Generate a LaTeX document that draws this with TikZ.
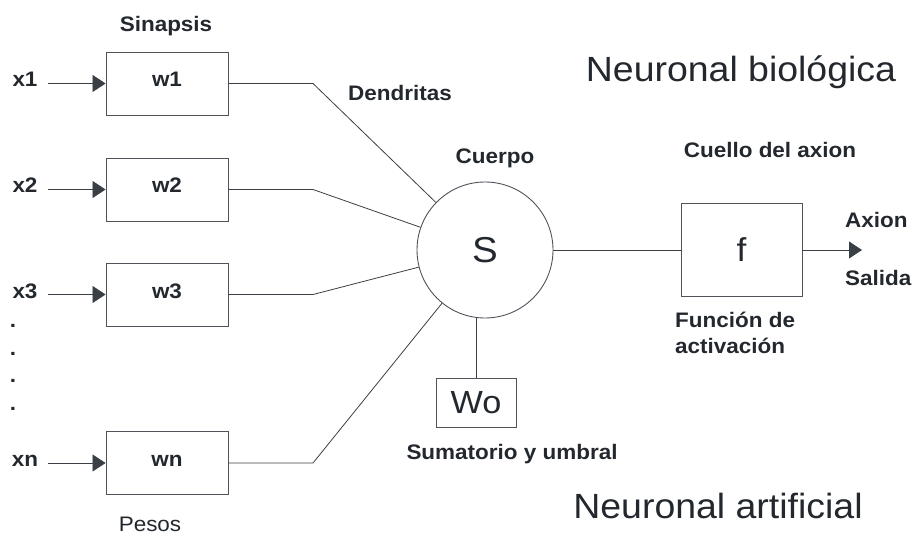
\documentclass[tikz,border=0pt]{standalone}
\usepackage{fontspec}
\setmainfont{Liberation Sans}[FakeStretch=1.07]
\usetikzlibrary{arrows.meta}
\definecolor{ink}{HTML}{23282E}
\definecolor{wire}{HTML}{3A3F45}
\definecolor{frame}{HTML}{4E535A}
\begin{document}
\begin{tikzpicture}[x=1pt,y=-1pt,
  every node/.style={inner sep=0pt,text=ink},
  lbl/.style={font=\bfseries\fontsize{21}{25}\selectfont,anchor=base},
  title/.style={font=\fontsize{35}{42}\selectfont,anchor=base},
  wbox/.style={draw=frame,line width=0.9pt,minimum width=122pt,minimum height=63pt,
    font=\bfseries\fontsize{21}{25}\selectfont,text height=15pt,text depth=8pt},
  wire/.style={draw=wire,line width=0.8pt},
  feed/.style={wire,-{Triangle[length=13pt,width=17pt]}}]
\useasboundingbox (0,0) rectangle (917,537);

% weights (synapses)
\node[wbox] (w1) at (167,83.5) {w1};
\node[wbox] (w2) at (167,189.5) {w2};
\node[wbox] (w3) at (167,294.5) {w3};
\node[wbox] (wn) at (167,463) {wn};

% inputs
\node[lbl] (x1) at (25,87) {x1};
\node[lbl] (x2) at (25,193) {x2};
\node[lbl] (x3) at (25,298) {x3};
\node[lbl] (xn) at (25,466) {xn};
\node[lbl] (d1) at (13,327) {.};
\node[lbl] (d2) at (13,355) {.};
\node[lbl] (d3) at (13,382) {.};
\node[lbl] (d4) at (13,410) {.};
\coordinate (i1) at (48,83.5);
\coordinate (i2) at (48,189.5);
\coordinate (i3) at (48,294.5);
\coordinate (in) at (48,463);
\draw[feed] (i1) -- (w1);
\draw[feed] (i2) -- (w2);
\draw[feed] (i3) -- (w3);
\draw[feed] (in) -- (wn);

% cell body, threshold and activation
\node[draw=frame,line width=0.9pt,circle,minimum size=136pt,
  font=\fontsize{36}{42}\selectfont] (S) at (485,250) {S};
\node[draw=frame,line width=0.9pt,minimum width=80pt,minimum height=49pt,
  font=\fontsize{32}{38}\selectfont] (Wo) at (476,402.5) {Wo};
\node[draw=frame,line width=0.9pt,minimum width=121pt,minimum height=93pt,
  font=\fontsize{33}{38}\selectfont] (f) at (741.5,250) {f};

% dendrites
\coordinate (b1) at (313,83.5);
\coordinate (b2) at (313,189.5);
\coordinate (b3) at (313,294.5);
\coordinate (bn) at (313,463);
\draw[wire] (w1.east) -- (b1) -- (S);
\draw[wire] (w2.east) -- (b2) -- (S);
\draw[wire] (w3.east) -- (b3) -- (S);
\draw[wire] (wn.east) -- (bn) -- (S);
\draw[wire] (Wo.north) -- (Wo.north |- S.-98);
\draw[wire] (S) -- (f);
\coordinate (out) at (862,250);
\draw[feed] (f.east) -- (out);

% labels
\node[lbl] (sin) at (166,32) {Sinapsis};
\node[lbl] (den) at (400,101) {Dendritas};
\node[lbl] (cue) at (495,164) {Cuerpo};
\node[lbl] (cax) at (770,158) {Cuello del axion};
\node[lbl,anchor=base west] (axi) at (845,227) {Axion};
\node[lbl,anchor=base west] (sal) at (845,285) {Salida};
\node[lbl,anchor=base west] (fa) at (675,327) {Función de};
\node[lbl,anchor=base west] (fb) at (675,353) {activación};
\node[lbl] (sum) at (512,459) {Sumatorio y umbral};
\node[font=\fontsize{21}{25}\selectfont,anchor=base] (pes) at (150,531) {Pesos};
\node[title] (bio) at (741,82) {Neuronal biológica};
\node[title] (art) at (718,518) {Neuronal artificial};
\end{tikzpicture}
\end{document}
